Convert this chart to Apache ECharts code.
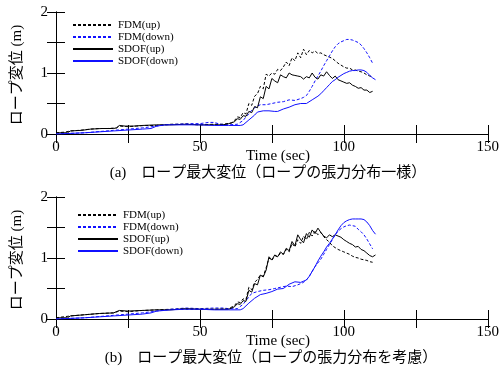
<!DOCTYPE html>
<html>
<head>
<meta charset="utf-8">
<script src="https://cdn.jsdelivr.net/npm/echarts@6/dist/echarts.min.js"></script>
<style>
  html, body { margin: 0; padding: 0; background: #fff; }
  #chart { width: 502px; height: 376px; }
</style>
</head>
<body>
<div id="chart"></div>
<script>
// legend names
const seriesNames = ["FDM(up)", "FDM(down)", "SDOF(up)", "SDOF(down)"];
const captions = [
  "(a)　ロープ最大変位（ロープの張力分布一様）",
  "(b)　ロープ最大変位（ロープの張力分布を考慮）",
];
const xTicks = [0, 50, 100, 150];
const yTicks = [0, 1, 2];

// (a) [time, displacement]
const fdmUpA = [[0,0.02],[3,0.03],[5,0.05],[8,0.06],[12,0.08],[15,0.09],[18,0.09],[21,0.10],[22,0.13],[25,0.12],[28,0.13],[31,0.14],[35,0.14],[40,0.16],[45,0.16],[50,0.15],[55,0.16],[58,0.16],[61,0.18],[62,0.22],[63,0.28],[64,0.27],[65,0.35],[66,0.33],[67,0.5],[68,0.47],[69,0.62],[70,0.66],[71,0.78],[72,0.74],[73,0.98],[74,0.95],[75,1.0],[76,0.98],[77,1.06],[78,1.04],[79,1.1],[80,1.18],[81,1.12],[82,1.25],[83,1.2],[84,1.33],[85,1.25],[86,1.39],[87,1.3],[88,1.37],[89,1.33],[90,1.36],[91,1.32],[92,1.33],[93,1.3],[94,1.28],[95,1.26],[96,1.24],[97,1.2],[98,1.16],[99,1.13],[100,1.1],[101,1.08],[102,1.08],[103,1.05],[104,1.05],[105,1.03],[106,1.02],[107,1.0],[108,0.97],[109,0.95],[110,0.94]];
const fdmDownA = [[0,0],[5,0.01],[10,0.02],[15,0.04],[20,0.06],[25,0.08],[30,0.1],[35,0.13],[38,0.15],[42,0.16],[46,0.17],[50,0.17],[53,0.19],[55,0.19],[57,0.16],[60,0.15],[63,0.16],[65,0.22],[66,0.28],[67,0.33],[68,0.39],[69,0.43],[70,0.46],[71,0.48],[73,0.48],[75,0.5],[77,0.52],[79,0.53],[81,0.56],[83,0.55],[85,0.58],[86,0.6],[87,0.63],[88,0.7],[89,0.78],[90,0.87],[91,0.95],[92,1.03],[93,1.12],[94,1.2],[95,1.28],[96,1.36],[97,1.43],[98,1.48],[99,1.51],[100,1.53],[101,1.55],[102,1.55],[103,1.54],[104,1.52],[105,1.5],[106,1.46],[107,1.4],[108,1.33],[109,1.25],[110,1.16]];
const sdofUpA = [[0,0.02],[4,0.02],[5,0.05],[9,0.06],[12,0.08],[16,0.09],[20,0.09],[21,0.1],[22,0.14],[24,0.13],[27,0.13],[30,0.14],[35,0.15],[40,0.15],[45,0.16],[50,0.15],[55,0.15],[58,0.15],[60,0.17],[62,0.2],[63,0.25],[64,0.24],[65,0.3],[66,0.29],[67,0.37],[68,0.35],[69,0.45],[70,0.43],[71,0.61],[72,0.58],[73,0.78],[74,0.74],[75,0.91],[76,0.87],[77,0.84],[78,0.97],[79,0.94],[80,0.92],[81,1.0],[82,0.97],[83,0.96],[84,0.95],[85,0.94],[86,0.9],[87,0.94],[88,0.92],[89,1.0],[90,0.93],[91,0.9],[92,0.97],[93,0.95],[94,1.02],[95,0.96],[96,0.91],[97,0.95],[98,0.89],[99,0.87],[100,0.85],[101,0.83],[102,0.84],[103,0.8],[104,0.78],[105,0.75],[106,0.76],[107,0.72],[108,0.72],[109,0.68],[110,0.7]];
const sdofDownA = [[0,0],[10,0.02],[20,0.05],[30,0.08],[33,0.09],[35,0.13],[38,0.15],[42,0.15],[50,0.15],[55,0.14],[60,0.14],[64,0.14],[65,0.15],[67,0.23],[69,0.31],[70,0.36],[72,0.38],[74,0.38],[76,0.37],[77,0.37],[79,0.41],[81,0.44],[83,0.48],[85,0.5],[87,0.5],[89,0.56],[91,0.62],[92,0.66],[93,0.71],[94,0.76],[95,0.81],[96,0.86],[97,0.89],[98,0.93],[99,0.96],[100,0.99],[101,1.01],[102,1.03],[103,1.04],[104,1.04],[105,1.05],[106,1.05],[107,1.04],[108,1.01],[109,0.96],[110,0.92],[111,0.89]];

// (b)
const fdmUpB = [[0,0.02],[5,0.05],[10,0.07],[15,0.09],[20,0.1],[22,0.13],[25,0.12],[30,0.14],[35,0.15],[40,0.16],[45,0.16],[50,0.16],[55,0.16],[60,0.17],[62,0.22],[63,0.28],[64,0.27],[65,0.33],[66,0.32],[67,0.52],[68,0.48],[69,0.6],[70,0.65],[71,0.72],[72,0.7],[73,0.84],[74,1.0],[75,0.96],[76,1.04],[77,1.02],[78,1.08],[79,1.06],[80,1.14],[81,1.1],[82,1.24],[83,1.18],[84,1.3],[85,1.24],[86,1.36],[87,1.3],[88,1.42],[89,1.36],[90,1.44],[91,1.38],[92,1.42],[93,1.35],[94,1.3],[95,1.26],[96,1.2],[97,1.17],[98,1.14],[99,1.12],[100,1.1],[101,1.08],[102,1.06],[103,1.03],[104,1.01],[105,1.0],[106,0.98],[107,0.97],[108,0.96],[109,0.94],[110,0.93]];
const fdmDownB = [[0,0],[5,0.01],[10,0.02],[15,0.04],[20,0.06],[25,0.08],[30,0.1],[35,0.13],[40,0.16],[45,0.18],[50,0.17],[55,0.18],[58,0.18],[60,0.17],[63,0.17],[65,0.24],[66,0.3],[67,0.36],[68,0.42],[70,0.45],[72,0.47],[74,0.48],[76,0.5],[78,0.52],[80,0.54],[82,0.53],[84,0.56],[86,0.6],[87,0.64],[88,0.7],[89,0.78],[90,0.86],[91,0.92],[92,0.98],[93,1.06],[94,1.14],[95,1.22],[96,1.3],[97,1.38],[98,1.44],[99,1.48],[100,1.51],[101,1.53],[102,1.54],[103,1.53],[104,1.52],[105,1.47],[106,1.43],[107,1.38],[108,1.31],[109,1.23],[110,1.15]];
const sdofUpB = [[0,0.02],[4,0.02],[5,0.05],[10,0.07],[15,0.09],[20,0.1],[22,0.14],[25,0.13],[30,0.14],[35,0.15],[40,0.15],[45,0.17],[50,0.16],[55,0.16],[60,0.16],[62,0.2],[63,0.25],[64,0.24],[65,0.3],[66,0.29],[67,0.47],[68,0.44],[69,0.58],[70,0.56],[71,0.72],[72,0.69],[73,0.8],[74,1.02],[75,0.97],[76,1.05],[77,1.02],[78,1.1],[79,1.06],[80,1.16],[81,1.12],[82,1.27],[83,1.2],[84,1.38],[85,1.3],[86,1.25],[87,1.4],[88,1.34],[89,1.46],[90,1.4],[91,1.49],[92,1.42],[93,1.36],[94,1.33],[95,1.38],[96,1.35],[97,1.38],[98,1.36],[99,1.34],[100,1.3],[101,1.27],[102,1.24],[103,1.22],[104,1.18],[105,1.19],[106,1.14],[107,1.12],[108,1.08],[109,1.04],[110,1.02],[111,1.05]];
const sdofDownB = [[0,0],[10,0.02],[20,0.05],[30,0.08],[33,0.1],[35,0.13],[40,0.15],[45,0.16],[50,0.16],[55,0.15],[60,0.15],[64,0.15],[65,0.17],[67,0.26],[69,0.34],[71,0.4],[73,0.42],[75,0.45],[77,0.49],[79,0.5],[81,0.57],[83,0.61],[85,0.6],[87,0.64],[88,0.7],[89,0.78],[90,0.86],[91,0.95],[92,1.03],[93,1.1],[94,1.18],[95,1.24],[96,1.31],[97,1.38],[98,1.46],[99,1.53],[100,1.58],[101,1.61],[102,1.63],[103,1.64],[104,1.64],[105,1.64],[106,1.64],[107,1.63],[108,1.59],[109,1.53],[110,1.45],[111,1.39]];

const serif = "'Liberation Serif', 'Noto Sans CJK JP', serif";
const blue = "#1010ff";

function xAxis(grid, bottom) {
  return {
    type: "value",
    gridIndex: grid,
    position: bottom ? "bottom" : "top",
    min: 0,
    max: 150,
    interval: 25,
    axisLine: { show: true, lineStyle: { color: "#000", width: 1 } },
    axisTick: { show: true, inside: true, length: 9, lineStyle: { color: "#000" } },
    splitLine: { show: false },
    axisLabel: {
      show: bottom,
      margin: 6,
      color: "#000",
      fontFamily: serif,
      fontSize: 15,
      formatter: (v) => (xTicks.includes(v) ? String(v) : ""),
    },
  };
}

function yAxis(grid, left) {
  return {
    type: "value",
    gridIndex: grid,
    position: left ? "left" : "right",
    min: 0,
    max: 2,
    interval: 0.5,
    axisLine: { show: true, lineStyle: { color: "#000", width: 1 } },
    axisTick: { show: true, inside: true, length: 9, lineStyle: { color: "#000" } },
    splitLine: { show: false },
    axisLabel: {
      show: left,
      margin: 8,
      color: "#000",
      fontFamily: serif,
      fontSize: 15,
      formatter: (v) => (yTicks.includes(v) ? String(v) : ""),
    },
  };
}

function line(name, data, grid, color, dashed) {
  return {
    name: name,
    type: "line",
    xAxisIndex: grid * 2,
    yAxisIndex: grid * 2,
    data: data,
    showSymbol: false,
    symbol: "none",
    silent: true,
    lineStyle: { color: color, width: 1, type: dashed ? [3, 2] : "solid" },
    itemStyle: { color: color },
  };
}

function legend(left, top) {
  return {
    orient: "vertical",
    left: left,
    top: top,
    itemWidth: 40,
    itemHeight: 12,
    itemGap: 0,
    padding: 0,
    data: seriesNames,
    itemStyle: { opacity: 0 },
    textStyle: { color: "#000", fontFamily: serif, fontSize: 11, lineHeight: 12, padding: [0, 0, 0, 0] },
  };
}

const option = {
  animation: false,
  backgroundColor: "#fff",
  grid: [
    { left: 56, top: 12, width: 432, height: 122 },
    { left: 56, top: 197, width: 432, height: 122 },
  ],
  xAxis: [xAxis(0, true), xAxis(0, false), xAxis(1, true), xAxis(1, false)],
  yAxis: [yAxis(0, true), yAxis(0, false), yAxis(1, true), yAxis(1, false)],
  legend: [legend(72, 19), legend(77, 209)],
  series: [
    line("FDM(up)", fdmUpA, 0, "#000", true),
    line("FDM(down)", fdmDownA, 0, blue, true),
    line("SDOF(up)", sdofUpA, 0, "#000", false),
    line("SDOF(down)", sdofDownA, 0, blue, false),
    line("FDM(up)", fdmUpB, 1, "#000", true),
    line("FDM(down)", fdmDownB, 1, blue, true),
    line("SDOF(up)", sdofUpB, 1, "#000", false),
    line("SDOF(down)", sdofDownB, 1, blue, false),
  ],
  graphic: [
    { type: "text", x: 17, y: 75, rotation: Math.PI / 2,
      style: { text: "ロープ変位 (m)", fill: "#000", font: "15px " + serif, align: "center", verticalAlign: "middle" } },
    { type: "text", x: 17, y: 260, rotation: Math.PI / 2,
      style: { text: "ロープ変位 (m)", fill: "#000", font: "15px " + serif, align: "center", verticalAlign: "middle" } },
    { type: "text", x: 278, y: 156,
      style: { text: "Time (sec)", fill: "#000", font: "15px " + serif, align: "center", verticalAlign: "middle" } },
    { type: "text", x: 278, y: 341,
      style: { text: "Time (sec)", fill: "#000", font: "15px " + serif, align: "center", verticalAlign: "middle" } },
    { type: "text", x: 268, y: 173,
      style: { text: captions[0], fill: "#000", font: "15px " + serif, align: "center", verticalAlign: "middle" } },
    { type: "text", x: 271, y: 358,
      style: { text: captions[1], fill: "#000", font: "15px " + serif, align: "center", verticalAlign: "middle" } },
  ],
};

const chart = echarts.init(document.getElementById("chart"));
chart.setOption(option);
</script>
</body>
</html>
